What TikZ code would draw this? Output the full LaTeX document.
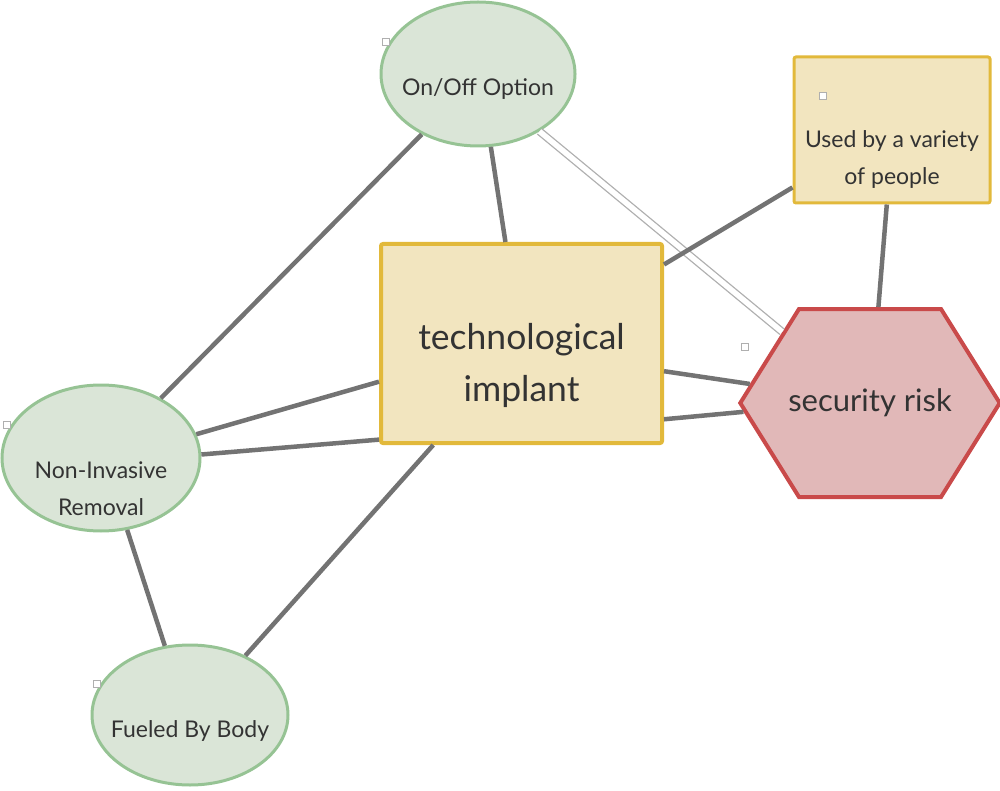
\documentclass[tikz,border=0pt]{standalone}
\usepackage{fontspec}
\setmainfont{Lato}
\usetikzlibrary{shapes.geometric,shapes.symbols}
\definecolor{verde}{RGB}{218,229,215}
\definecolor{verdeb}{RGB}{150,195,148}
\definecolor{amar}{RGB}{242,229,191}
\definecolor{amarb}{RGB}{226,185,59}
\definecolor{rojo}{RGB}{225,184,184}
\definecolor{rojob}{RGB}{201,74,74}
\definecolor{grisl}{RGB}{115,115,115}
\definecolor{grisd}{RGB}{175,175,175}
\definecolor{tinta}{RGB}{51,51,51}
\tikzset{
  elipse/.style={ellipse, draw=verdeb, fill=verde, line width=3pt, inner sep=0pt},
  caja/.style={draw=amarb, fill=amar, line width=3pt, rounded corners=2pt, inner sep=0pt},
  hexa/.style={signal, signal to=west and east, signal pointer angle=116, draw=rojob, fill=rojo, line width=4pt, inner sep=0pt},
  texto/.style={font=\fontsize{23}{37}\selectfont, text=tinta, align=center},
  grande/.style={font=\fontsize{35.5}{52}\selectfont, text=tinta, align=center},
  enl/.style={draw=grisl, line width=4.5pt},
  enldoble/.style={draw=grisd, line width=1.3pt, double=white, double distance=5.5pt},
  marca/.style={draw=grisd, fill=white, line width=0.8pt, minimum size=7pt, inner sep=0pt},
}
\begin{document}
\begin{tikzpicture}[x=1pt, y=-1pt]
  \useasboundingbox (0,0) rectangle (1000,791);
  % nodos
  \node[elipse, minimum width=194pt, minimum height=144pt,
    label={[texto, yshift=-15pt]center:On/Off Option}] (onoff) at (478,74) {};
  \node[elipse, minimum width=198pt, minimum height=146pt,
    label={[texto, yshift=-31pt]center:Non-Invasive\\Removal}] (noinv) at (101,458) {};
  \node[elipse, minimum width=196pt, minimum height=140pt,
    label={[texto, yshift=-16pt]center:Fueled By Body}] (cuerpo) at (190,715) {};
  \node[caja, minimum width=196pt, minimum height=146pt,
    label={[texto, yshift=-30pt]center:Used by a variety\\of people}] (usado) at (892,130) {};
  \node[caja, line width=4pt, minimum width=281pt, minimum height=199pt,
    label={[grande, yshift=-22pt]center:technological\\implant}] (impl) at (521.5,343.5) {};
  \node[hexa, minimum width=257pt, minimum height=188pt, font=\fontsize{31}{36}\selectfont, text=tinta] (riesgo) at (870,403) {\makebox[142pt]{security risk}};
  % enlaces
  \draw[enldoble] (onoff.-43.5) -- (riesgo.141);
  \draw[enl] (onoff.227) -- (noinv.45);
  \draw[enl] (onoff.-80.7) -- (impl.99.4);
  \draw[enl] (usado.210.6) -- (impl.29.2);
  \draw[enl] (usado.266) -- (riesgo.85);
  \draw[enl] (impl.-11.5) -- (riesgo.171);
  \draw[enl] (impl.-28.6) -- (riesgo.184.6);
  \draw[enl] (noinv.14) -- (impl.195.7);
  \draw[enl] (noinv.2.3) -- (impl.214.5);
  \draw[enl] (noinv.-70.6) -- (cuerpo.110);
  \draw[enl] (impl.229) -- (cuerpo.47);
  % marcas
  \foreach \n/\p in {m1/{(386,42)}, m2/{(823,96)}, m3/{(745,347)}, m4/{(7,425)}, m5/{(97,684)}}
    \node[marca] (\n) at \p {};
\end{tikzpicture}
\end{document}
